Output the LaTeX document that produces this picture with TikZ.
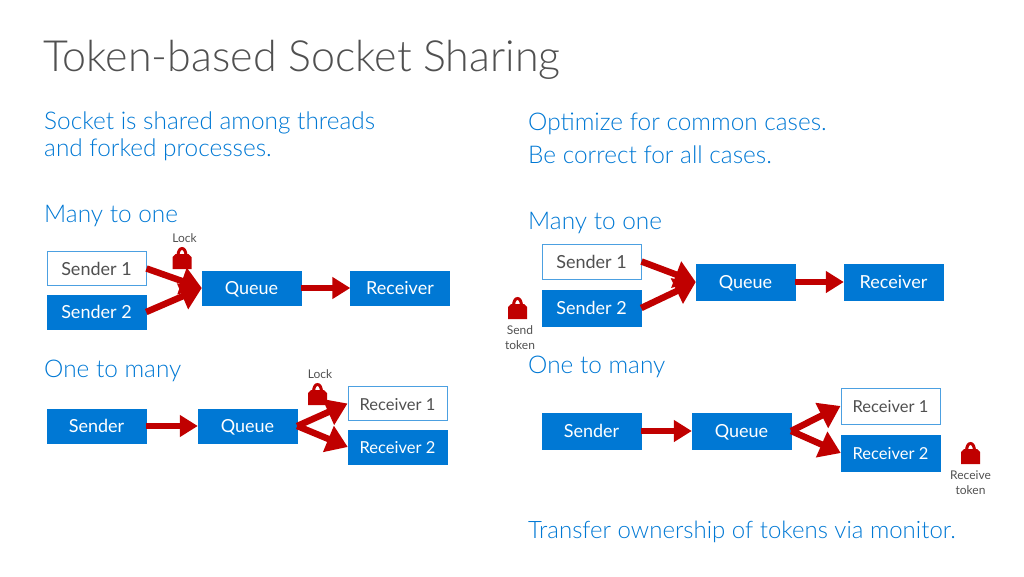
\documentclass[tikz,border=0pt]{standalone}
\usepackage{fontspec}
\setmainfont{Lato}
\newfontfamily\titlefont{Lato Light}
\usetikzlibrary{arrows.meta}
\definecolor{boxblue}{HTML}{0078D4}
\definecolor{arrowred}{HTML}{C00000}
\definecolor{textgray}{HTML}{505050}
\tikzset{
    filledbox/.style={draw=boxblue, fill=boxblue, text=white, minimum width=99pt, minimum height=34pt, inner sep=0pt, text height=16pt, text depth=3pt, font=\fontsize{18}{20}\selectfont},
    openbox/.style={draw=boxblue!70, fill=white, line width=1pt, text=textgray, minimum width=99pt, minimum height=34pt, inner sep=0pt, text height=16pt, text depth=3pt, font=\fontsize{18}{20}\selectfont},
    smalltext/.style={font=\fontsize{16.5}{20}\selectfont},
    flow/.style={draw=arrowred, line width=6.5pt, -{Triangle[length=18pt,width=21pt,fill=arrowred]}},
    flowwide/.style={draw=arrowred, line width=6.5pt, -{Triangle[length=21pt,width=27pt,fill=arrowred]}},
    heading/.style={text=boxblue, anchor=base west, inner sep=0pt, font=\titlefont\fontsize{24.4}{33}\selectfont, align=left},
    note/.style={text=textgray, inner sep=0pt, align=center, font=\fontsize{12}{15}\selectfont},
    pics/padlock/.style={code={
        \fill[arrowred] (-9.5,0) -- (-9.5,-12) -- (-6.5,-15) -- (6.5,-15) -- (9.5,-12) -- (9.5,0) -- cycle;
        \draw[arrowred, line width=3pt] (-4,-13) .. controls (-4,-23) and (4,-23) .. (4,-13);
    }}
}
\begin{document}
\begin{tikzpicture}[x=1pt,y=-1pt]
    \useasboundingbox (0,0) rectangle (1024,576);

    \node[text=textgray, anchor=base west, inner sep=0pt, font=\titlefont\fontsize{43}{50}\selectfont] (title) at (43,71) {Token-based Socket Sharing};

    \node[heading] (left) at (44,129) {Socket is shared among threads};
    \node[heading] (left2) at (44,156) {and forked processes.};
    \node[heading] (right) at (528,130) {Optimize for common cases.};
    \node[heading] (right2) at (528,163) {Be correct for all cases.};

    % left, many to one
    \node[heading] (lm) at (44,222) {Many to one};
    \node[openbox] (ls1) at (96.5,268.5) {Sender 1};
    \node[filledbox] (ls2) at (96.5,312) {Sender 2};
    \node[filledbox] (lq) at (251.5,288) {Queue};
    \node[filledbox] (lr) at (400,288) {Receiver};
    \pic at (182,269) {padlock};
    \node[note] (lock1) at (184.5,238.5) {Lock};
    \draw[flowwide] (ls1.east) -- (lq.west);
    \draw[flowwide] (ls2.east) -- (lq.west);
    \draw[flow] (lq) -- (lr);

    % left, one to many
    \node[heading] (lo) at (44,377) {One to many};
    \node[filledbox] (ls) at (96.5,426) {Sender};
    \node[filledbox] (lq2) at (247.5,426) {Queue};
    \node[openbox, smalltext] (lr1) at (397.5,403.5) {Receiver 1};
    \node[filledbox, smalltext] (lr2) at (397.5,447) {Receiver 2};
    \pic at (317.5,405) {padlock};
    \node[note] (lock2) at (320,374.5) {Lock};
    \draw[flow] (ls) -- (lq2);
    \draw[flowwide] (lq2.east) -- (lr1.west);
    \draw[flowwide] (lq2.east) -- (lr2.west);

    % right, many to one
    \node[heading] (rm) at (528,229) {Many to one};
    \node[openbox, minimum height=35pt] (rs1) at (591.5,261.5) {Sender 1};
    \node[filledbox, minimum height=36pt] (rs2) at (591.5,308) {Sender 2};
    \node[filledbox, minimum height=36pt] (rq) at (745.5,282) {Queue};
    \node[filledbox, minimum height=36pt] (rr) at (893.5,282) {Receiver};
    \pic at (517.5,319) {padlock};
    \node[note] (send) at (520,338) {Send\\token};
    \draw[flowwide] (rs1.east) -- (rq.west);
    \draw[flowwide] (rs2.east) -- (rq.west);
    \draw[flow] (rq) -- (rr);

    % right, one to many
    \node[heading] (ro) at (528,373) {One to many};
    \node[filledbox, minimum height=36pt] (rs) at (591.5,431) {Sender};
    \node[filledbox, minimum height=36pt] (rq2) at (741.5,431) {Queue};
    \node[openbox, smalltext, minimum height=36pt] (rr1) at (890.5,406) {Receiver 1};
    \node[filledbox, smalltext, minimum height=36pt] (rr2) at (890.5,453) {Receiver 2};
    \pic at (970.5,464) {padlock};
    \node[note] (recv) at (970.5,483) {Receive\\token};
    \draw[flow] (rs) -- (rq2);
    \draw[flowwide] (rq2.east) -- (rr1.west);
    \draw[flowwide] (rq2.east) -- (rr2.west);

    \node[heading, font=\titlefont\fontsize{24}{33}\selectfont] (foot) at (528,538) {Transfer ownership of tokens via monitor.};
\end{tikzpicture}
\end{document}
